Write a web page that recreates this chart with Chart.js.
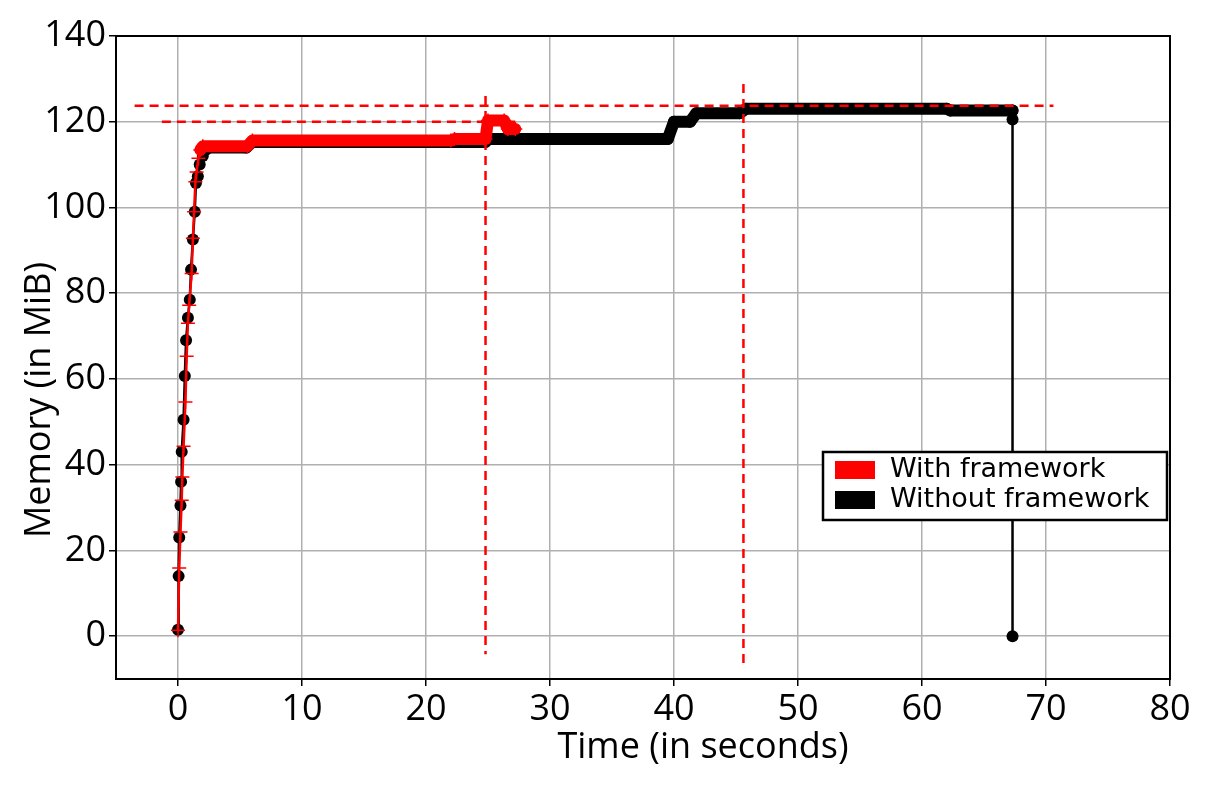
<!DOCTYPE html>
<html lang="en">
<head>
<meta charset="UTF-8">
<title>Memory usage over time</title>
<script src="https://cdn.jsdelivr.net/npm/chart.js"></script>
<style>
  html, body { margin: 0; padding: 0; background: #fff; }
  #wrap { width: 1210px; height: 798px; }
</style>
</head>
<body>
<div id="wrap"><canvas id="memChart"></canvas></div>
<script>
// axis ticks
const xTickValues = [0, 10, 20, 30, 40, 50, 60, 70, 80];
const yTickValues = [0, 20, 40, 60, 80, 100, 120, 140];
const xTitle = 'Time (in seconds)';
const yTitle = 'Memory (in MiB)';

// With framework (red, "+" markers)
const withTime = [0, 0.1, 0.2, 0.3, 0.35, 0.45, 0.6, 0.7, 0.8, 0.9, 1.1, 1.2, 1.3, 1.4, 1.5, 1.65, 1.8, 2.0,
  5.6, 6.0, 22.0, 22.3, 24.8, 25.0, 26.3, 26.6, 27.2];
const withMem = [1.4, 15.9, 24.3, 31.7, 37.1, 44.3, 54.6, 65.3, 73.0, 77.2, 84.6, 92.8, 99.0, 106.0, 108.3, 111.5, 113.4, 114.3,
  114.3, 115.6, 115.6, 116.0, 116.0, 120.3, 120.3, 118.3, 118.3];

// Without framework (black, dot markers)
const withoutTime = [0, 0.05, 0.1, 0.2, 0.25, 0.3, 0.45, 0.55, 0.65, 0.8, 0.95, 1.05, 1.2, 1.35, 1.45, 1.6, 1.75, 2.0, 2.25,
  2.5, 5.5, 6.0, 24.8, 25.0, 39.5, 40.0, 41.3, 41.8, 45.3, 45.8, 62.0, 62.3, 67.3, 67.3, 67.3];
const withoutMem = [1.5, 14.0, 23.0, 30.5, 36.0, 43.0, 50.5, 60.7, 69.0, 74.3, 78.5, 85.5, 92.5, 99.0, 105.7, 107.3, 110.0, 112.0, 113.5,
  114.0, 114.0, 115.3, 115.3, 116.0, 116.0, 120.0, 120.0, 122.0, 122.0, 123.0, 123.0, 122.6, 122.6, 120.5, 0];

// red dashed reference lines
const hLineA = { time: [-3.5, 70.6], mem: [123.7, 123.7] };
const hLineB = { time: [-1.3, 27.2], mem: [120.0, 120.0] };
const vLineA = { time: [24.8, 24.8], mem: [126.0, -4.2] };
const vLineB = { time: [45.6, 45.6], mem: [128.8, -6.3] };

const legendItems = [
  { label: 'With framework', color: '#ff0000' },
  { label: 'Without framework', color: '#000000' }
];

function toPoints(xs, ys) {
  return xs.map((x, i) => ({ x: x, y: ys[i] }));
}

// thick band where the samples are dense on the plateau
function bandWidth(ctx) {
  const dx = ctx.p1.parsed.x - ctx.p0.parsed.x;
  const lo = Math.min(ctx.p0.parsed.y, ctx.p1.parsed.y);
  return (dx > 0.01 && lo > 112.5) ? 12 : 2.5;
}

function dashed(line) {
  return {
    data: toPoints(line.time, line.mem),
    borderColor: '#ff0000',
    borderWidth: 2.5,
    borderDash: [9, 6],
    pointRadius: 0,
    fill: false
  };
}

const decorPlugin = {
  id: 'decor',
  afterDraw(chart) {
    const ctx = chart.ctx;
    const a = chart.chartArea;
    ctx.save();
    ctx.strokeStyle = '#000';
    ctx.lineWidth = 2;
    ctx.strokeRect(a.left, a.top, a.right - a.left, a.bottom - a.top);

    ctx.fillStyle = '#000';
    ctx.font = '36px "Open Sans"';
    ctx.textAlign = 'center';
    ctx.textBaseline = 'middle';
    ctx.fillText(xTitle, a.left + 587, a.bottom + 69);
    ctx.translate(a.left - 76, a.top + 364);
    ctx.rotate(-Math.PI / 2);
    ctx.fillText(yTitle, 0, 0);
    ctx.restore();

    // legend box
    ctx.save();
    const lx = a.left + 707, ly = a.top + 416;
    ctx.fillStyle = '#fff';
    ctx.fillRect(lx, ly, 344, 68);
    ctx.strokeStyle = '#000';
    ctx.lineWidth = 2.5;
    ctx.strokeRect(lx, ly, 344, 68);
    ctx.font = '27px "DejaVu Sans"';
    ctx.textAlign = 'left';
    ctx.textBaseline = 'middle';
    legendItems.forEach((item, i) => {
      const cy = ly + 18 + i * 30;
      ctx.fillStyle = item.color;
      ctx.fillRect(lx + 12, cy - 9, 40, 18);
      ctx.fillStyle = '#000';
      ctx.fillText(item.label, lx + 67, cy);
    });
    ctx.restore();
  }
};

new Chart(document.getElementById('memChart'), {
  type: 'line',
  data: {
    datasets: [
      dashed(hLineA),
      dashed(hLineB),
      dashed(vLineA),
      dashed(vLineB),
      {
        label: legendItems[0].label,
        data: toPoints(withTime, withMem),
        borderColor: '#ff0000',
        borderWidth: 2.5,
        borderCapStyle: 'round',
        borderJoinStyle: 'round',
        pointStyle: 'cross',
        pointRadius: 7,
        pointBorderColor: '#ff0000',
        pointBorderWidth: 1.5,
        segment: { borderWidth: bandWidth },
        fill: false
      },
      {
        label: legendItems[1].label,
        data: toPoints(withoutTime, withoutMem),
        borderColor: '#000000',
        borderWidth: 2.5,
        borderCapStyle: 'round',
        borderJoinStyle: 'round',
        pointStyle: 'circle',
        pointRadius: 6,
        pointBackgroundColor: '#000000',
        pointBorderWidth: 0,
        segment: { borderWidth: bandWidth },
        fill: false
      }
    ]
  },
  options: {
    responsive: true,
    maintainAspectRatio: false,
    animation: false,
    devicePixelRatio: 1,
    layout: { padding: { left: 0, right: 40, top: 36, bottom: 0 } },
    plugins: {
      legend: { display: false },
      tooltip: { enabled: false }
    },
    scales: {
      x: {
        type: 'linear',
        min: -5,
        max: 80,
        afterBuildTicks: s => { s.ticks = xTickValues.map(v => ({ value: v })); },
        afterFit: s => { s.height = 119; },
        grid: { color: '#b0b0b0', lineWidth: 1.5, tickColor: '#000', tickLength: 7 },
        border: { display: false },
        ticks: { color: '#000', padding: 2, maxRotation: 0, font: { family: 'Open Sans', size: 36 } }
      },
      y: {
        type: 'linear',
        min: -10,
        max: 140,
        afterBuildTicks: s => { s.ticks = yTickValues.map(v => ({ value: v })); },
        afterFit: s => { s.width = 116; },
        grid: { color: '#b0b0b0', lineWidth: 1.5, tickColor: '#000', tickLength: 7 },
        border: { display: false },
        ticks: { color: '#000', padding: 3, font: { family: 'Open Sans', size: 36 } }
      }
    }
  },
  plugins: [decorPlugin]
});
</script>
</body>
</html>
